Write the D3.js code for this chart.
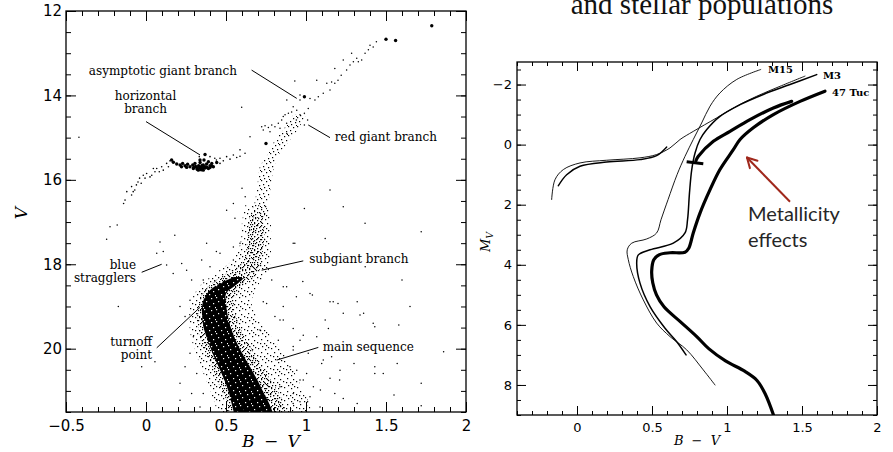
<!DOCTYPE html>
<html>
<head>
<meta charset="utf-8">
<script src="https://cdn.jsdelivr.net/npm/d3@7"></script>
<style>
  body { margin: 0; background: #fff; }
  svg { display: block; }
</style>
</head>
<body>
<svg id="fig" width="893" height="452"></svg>
<script>
// ---------------- Left panel: globular cluster colour–magnitude diagram ----------------
// Tick labels
const cmdColorTicks = [-0.5, 0, 0.5, 1, 1.5, 2];
const cmdMagTicks = [12, 14, 16, 18, 20];

// Brightest giants and a few luminous stars drawn as heavy dots [B-V, V]
const brightGiants = [[1.786, 12.35], [1.50, 12.67], [1.56, 12.70], [0.99, 14.03], [0.75, 15.14]];

// Red horizontal-branch clump (heavy dots)
const hbClump = [
  [0.171, 15.585], [0.192, 15.625], [0.213, 15.65], [0.229, 15.61], [0.244, 15.665], [0.26, 15.63],
  [0.275, 15.69], [0.292, 15.65], [0.306, 15.61], [0.317, 15.71], [0.329, 15.665], [0.338, 15.59],
  [0.348, 15.73], [0.358, 15.65], [0.369, 15.69], [0.379, 15.625], [0.39, 15.73], [0.40, 15.665],
  [0.411, 15.61], [0.421, 15.69], [0.296, 15.73], [0.327, 15.77], [0.358, 15.77], [0.254, 15.705],
  [0.222, 15.69], [0.39, 15.57], [0.3625, 15.53], [0.442, 15.59], [0.3375, 15.53], [0.16, 15.53],
  [0.31, 15.68], [0.34, 15.70], [0.37, 15.72], [0.35, 15.66], [0.32, 15.75], [0.38, 15.70],
  [0.30, 15.70], [0.345, 15.76], [0.335, 15.72], [0.36, 15.71], [0.40, 15.71], [0.41, 15.67],
  [0.369, 15.40]
];

// Blue tail and red end of the horizontal branch
const hbStars = [
  [-0.14, 16.56], [-0.131, 16.48], [-0.12, 16.28], [-0.09, 16.36], [-0.09, 16.16], [-0.08, 16.28],
  [-0.07, 16.24], [-0.06, 16.12], [-0.05, 16.05], [-0.04, 15.96], [-0.03, 16.08], [-0.017, 15.89],
  [-0.006, 15.96], [0.004, 15.85], [0.025, 15.93], [0.036, 15.89], [0.046, 15.73], [0.056, 15.81],
  [0.067, 15.73], [0.083, 15.81], [0.098, 15.69], [0.108, 15.77], [0.129, 15.61], [0.14, 15.69],
  [0.15, 15.55], [0.44, 15.53], [0.4625, 15.49], [0.483, 15.55], [0.504, 15.45], [0.525, 15.51],
  [0.546, 15.41], [0.567, 15.47], [0.5875, 15.44], [0.619, 15.37], [0.4625, 15.61], [0.43, 15.49],
  [0.40, 15.45], [0.333, 15.45], [0.5875, 15.29]
];

// Upper red giant branch
const upperGiants = [
  [0.942, 14.35], [0.9625, 14.11], [1.014, 14.31], [1.025, 14.07], [1.056, 14.11], [1.077, 14.03],
  [1.108, 13.95], [1.15, 13.87], [1.16, 13.68], [1.18, 13.71], [1.2, 13.64], [1.22, 13.52],
  [1.254, 13.4], [1.275, 13.28], [1.296, 13.2], [1.317, 13.12], [1.327, 13.2], [1.348, 13.16],
  [1.369, 13.0], [1.39, 12.92], [1.4, 12.81], [1.42, 12.85], [1.44, 12.73], [1.233, 13.16],
  [1.285, 13.0], [1.18, 13.36], [1.13, 13.71], [0.93, 13.66], [0.9625, 13.99], [0.9625, 14.46],
  [0.99, 14.42], [1.01, 14.58], [0.94, 14.58], [0.99, 14.7], [0.88, 14.11], [1.067, 13.64]
];

// Asymptotic giant branch
const agbStars = [
  [0.723, 14.74], [0.744, 14.72], [0.765, 14.76], [0.786, 14.70], [0.806, 14.74], [0.827, 14.66],
  [0.848, 14.58], [0.858, 14.50], [0.869, 14.46], [0.89, 14.42], [0.91, 14.39], [0.92, 14.27],
  [0.775, 14.86], [0.733, 14.82], [0.8375, 14.78], [0.879, 14.66]
];

// Blue stragglers
const blueStragglers = [
  [0.0875, 17.47], [0.108, 17.70], [0.067, 17.74], [0.129, 18.02], [0.17, 18.22], [0.223, 17.98],
  [0.18, 17.31], [0.254, 18.14], [0.285, 18.37], [0.275, 18.85], [0.2125, 19.0], [0.244, 19.24]
];

// Scattered field stars
const fieldStars = [
  [-0.419, 14.99], [-0.246, 17.41], [-0.18, 17.07], [-0.225, 17.11], [-0.173, 19.0], [0.598, 14.28],
  [0.546, 16.56], [0.504, 16.72], [0.556, 16.91], [0.65, 14.98], [1.15, 16.24], [1.233, 16.64],
  [0.99, 16.68], [1.369, 17.03], [1.72, 17.23], [1.12, 17.39], [0.93, 17.5], [1.6, 18.37],
  [0.98, 18.41], [1.04, 18.73], [1.15, 18.89], [1.2, 18.93], [1.32, 18.89], [1.65, 19.0],
  [1.36, 19.16], [1.43, 19.48], [1.58, 19.44], [1.14, 19.52], [1.86, 20.07], [1.16, 20.19],
  [1.43, 20.59], [1.3, 20.35], [1.72, 20.82], [1.21, 20.74], [1.57, 20.35], [1.18, 21.06],
  [1.09, 20.98], [1.32, 21.3], [1.01, 21.26], [0.858, 18.53], [0.94, 18.77], [0.858, 19.0],
  [0.806, 19.24], [1.12, 19.32], [0.983, 19.68], [1.067, 19.72], [0.92, 19.95], [1.014, 20.11],
  [1.098, 20.35], [0.942, 20.51], [0.983, 20.74], [1.046, 20.9], [0.92, 21.06], [0.9625, 21.26],
  [1.233, 21.18], [1.15, 20.7], [1.43, 20.43], [1.37, 18.06], [0.786, 18.37], [0.733, 18.89],
  [1.025, 18.69], [1.17, 18.89], [1.233, 19.16], [1.3375, 19.2], [1.42, 19.4], [0.858, 19.32],
  [0.92, 19.52], [0.9625, 19.8], [0.7125, 19.56], [0.827, 19.8], [1.004, 20.59], [0.90, 20.43],
  [0.9625, 20.74], [1.108, 20.27], [1.2125, 20.51], [1.483, 20.59], [0.8375, 20.9], [1.025, 21.14],
  [0.92, 21.3], [1.0875, 21.38], [0.358, 18.37], [0.40, 18.06], [0.4625, 17.74], [0.348, 17.9],
  [0.546, 17.59], [-0.027, 20.43], [0.056, 20.31], [0.2125, 20.82], [0.244, 20.43], [0.275, 20.11],
  [0.296, 19.72], [0.2125, 21.22], [0.285, 21.06], [0.3375, 21.38], [0.317, 20.59], [0.358, 21.06],
  [0.379, 17.5], [0.44, 17.7], [0.5875, 17.5], [0.546, 17.9], [0.92, 17.5], [0.879, 18.53],
  [0.754, 18.93], [0.8375, 19.32], [0.92, 20.03], [1.72, 21.35], [1.55, 21.1], [0.88, 14.9],
  [0.60, 16.2], [0.62, 16.4]
];

// Density envelopes of the crowded sequences: magnitude, blue edge, red edge
const rgbBandV  = [14.45, 14.8, 15.1, 15.4, 15.7, 16.0, 16.3, 16.6, 16.9];
const rgbBandLo = [0.92, 0.86, 0.80, 0.76, 0.71, 0.70, 0.69, 0.675, 0.645];
const rgbBandHi = [1.00, 0.95, 0.89, 0.83, 0.80, 0.785, 0.775, 0.76, 0.74];

const haloV  = [16.6, 17.0, 17.5, 17.9, 18.2, 18.5, 18.9, 19.3, 19.7, 20.1, 20.5, 20.9, 21.3, 21.6];
const haloLo = [0.62, 0.60, 0.59, 0.54, 0.44, 0.34, 0.28, 0.27, 0.28, 0.31, 0.35, 0.39, 0.43, 0.45];
const haloHi = [0.76, 0.78, 0.78, 0.78, 0.76, 0.70, 0.66, 0.70, 0.78, 0.86, 0.92, 0.97, 1.02, 1.04];

const ridgeV  = [16.9, 17.3, 17.7, 18.0, 18.2, 18.4, 18.6, 18.9, 19.2, 19.6, 20.0, 20.4, 20.8, 21.2, 21.6];
const ridgeLo = [0.645, 0.635, 0.625, 0.59, 0.51, 0.43, 0.37, 0.33, 0.32, 0.33, 0.36, 0.41, 0.45, 0.50, 0.52];
const ridgeHi = [0.73, 0.74, 0.73, 0.72, 0.70, 0.64, 0.58, 0.55, 0.56, 0.60, 0.66, 0.72, 0.79, 0.85, 0.88];

const coreV  = [18.3, 18.5, 18.7, 18.9, 19.2, 19.5, 19.8, 20.1, 20.4, 20.7, 21.0, 21.3, 21.6];
const coreLo = [0.55, 0.44, 0.38, 0.355, 0.35, 0.36, 0.385, 0.415, 0.45, 0.485, 0.515, 0.535, 0.555];
const coreHi = [0.62, 0.56, 0.50, 0.50, 0.51, 0.53, 0.56, 0.60, 0.645, 0.69, 0.73, 0.77, 0.80];

// Annotations: label lines, text anchor [B-V, V], leader start and end
const cmdNotes = [
  { lines: ["asymptotic giant branch"], at: [0.106, 13.52], align: "middle", from: [0.66, 13.40], to: [0.942, 14.07] },
  { lines: ["horizontal", "branch"], at: [-0.003, 14.12], align: "middle", from: [0.0, 14.62], to: [0.3375, 15.41] },
  { lines: ["red giant branch"], at: [1.18, 15.07], align: "start", from: [1.15, 15.0], to: [1.014, 14.70] },
  { lines: ["subgiant branch"], at: [1.02, 17.98], align: "start", from: [0.983, 17.92], to: [0.723, 18.14] },
  { lines: ["main sequence"], at: [1.104, 20.05], align: "start", from: [1.077, 19.97], to: [0.817, 20.27] },
  { lines: ["blue", "stragglers"], at: [-0.0625, 18.12], align: "end", from: [-0.027, 18.19], to: [0.098, 18.0] },
  { lines: ["turnoff", "point"], at: [0.0375, 19.93], align: "end", from: [0.067, 19.98], to: [0.3375, 19.02] }
];

// ---------------- Right panel: fiducial sequences of three clusters ----------------
const fidColorTicks = [0, 0.5, 1, 1.5, 2];
const fidMagTicks = [-2, 0, 2, 4, 6, 8];

const m15Giant = [
  [1.225, -2.5], [1.065, -2.17], [0.953, -1.72], [0.887, -1.28], [0.831, -0.72], [0.775, -0.17],
  [0.72, 0.39], [0.667, 1.0], [0.607, 1.83], [0.56, 2.5], [0.531, 2.94], [0.465, 3.14],
  [0.365, 3.28], [0.335, 3.5], [0.342, 3.83], [0.375, 4.39], [0.442, 5.17], [0.531, 5.94],
  [0.62, 6.39], [0.731, 6.83], [0.842, 7.5], [0.92, 8.0]
];
const m15Branch = [
  [-0.169, 1.83], [-0.147, 1.17], [-0.091, 0.83], [0.02, 0.61], [0.198, 0.52], [0.42, 0.44],
  [0.531, 0.33], [0.62, 0.11], [0.687, -0.17], [0.775, -0.44], [0.931, -0.89], [1.065, -1.28],
  [1.198, -1.61], [1.353, -1.94], [1.52, -2.28]
];
const m3Giant = [
  [1.598, -2.33], [1.42, -2.0], [1.242, -1.67], [1.087, -1.33], [0.953, -0.94], [0.865, -0.5],
  [0.82, -0.17], [0.787, 0.28], [0.765, 0.83], [0.75, 1.6], [0.737, 2.5], [0.72, 2.94],
  [0.642, 3.28], [0.487, 3.5], [0.409, 3.67], [0.398, 3.94], [0.42, 4.61], [0.487, 5.39],
  [0.587, 6.11], [0.665, 6.56], [0.727, 7.0]
];
const m3Branch = [
  [-0.125, 1.37], [-0.069, 1.0], [0.02, 0.72], [0.198, 0.58], [0.42, 0.5], [0.531, 0.37], [0.598, 0.08]
];
const tucGiant = [
  [1.653, -1.78], [1.487, -1.44], [1.309, -1.0], [1.175, -0.56], [1.087, -0.17], [1.042, 0.17],
  [0.953, 0.83], [0.887, 1.5], [0.82, 2.28], [0.775, 2.94], [0.745, 3.45], [0.72, 3.58],
  [0.62, 3.6], [0.55, 3.66], [0.512, 3.83], [0.498, 4.2], [0.505, 4.6], [0.53, 5.0],
  [0.58, 5.4], [0.69, 5.9], [0.80, 6.4], [0.88, 6.8], [0.99, 7.2], [1.12, 7.55],
  [1.20, 7.85], [1.255, 8.3], [1.31, 9.0]
];
const tucAgb = [
  [1.431, -1.44], [1.309, -1.22], [1.153, -0.83], [1.02, -0.44], [0.909, -0.11], [0.809, 0.39], [0.793, 0.53]
];
const tucHb = [[0.731, 0.57], [0.842, 0.64]];

const clusterNames = ["M15", "M3", "47 Tuc"];
const clusterLabelAt = [[1.273, -2.4], [1.64, -2.2], [1.70, -1.63]];

const noteLines = ["Metallicity", "effects"];
const noteAt = [[1.14, 2.53], [1.14, 3.4]];
const arrowFrom = [1.42, 1.9];
const arrowTo = [1.133, 0.43];

// ---------------- Drawing ----------------
const svg = d3.select("#fig");
svg.append("rect").attr("width", 893).attr("height", 452).attr("fill", "#fff");
const defs = svg.append("defs");

// Grain textures for crowded regions
function grain(id, size, dots, bg) {
  const p = defs.append("pattern").attr("id", id)
    .attr("patternUnits", "userSpaceOnUse").attr("width", size).attr("height", size);
  if (bg) p.append("rect").attr("width", size).attr("height", size).attr("fill", bg);
  const ink = bg ? "#fff" : "#000";
  dots.forEach(([a, b]) => p.append("rect").attr("x", a).attr("y", b)
    .attr("width", 1.2).attr("height", 1.2).attr("fill", ink));
}
grain("gCore", 12, [[2,1],[9,3],[5,6],[0,9],[7,10],[11,7]], "#000");
grain("gMid", 14, [[0,0],[5,0],[9,1],[12,0],[2,2],[7,3],[11,3],[4,4],[13,5],[1,5],[8,6],[6,7],
  [10,8],[3,8],[0,10],[12,10],[5,10],[8,11],[2,12],[10,13],[6,13],[13,12],[4,1],[9,9],[1,7],[11,6]]);
grain("gSparse", 13, [[1,1],[7,2],[4,5],[10,4],[2,8],[8,9],[5,11],[11,10],[6,7],[0,5]]);
grain("gBand", 9, [[0,0],[5,1],[2,4],[7,5],[3,7],[8,8]]);

const zip = (v, lo, hi) => v.map((d, i) => ({ v: d, lo: lo[i], hi: hi[i] }));

// ---- Left panel ----
const lx = d3.scaleLinear().domain([-0.5, 2.0]).range([66, 466]);
const ly = d3.scaleLinear().domain([12, 21.5]).range([11, 412]);

defs.append("clipPath").attr("id", "clipL").append("rect")
  .attr("x", 66).attr("y", 11).attr("width", 400).attr("height", 401);

const L = svg.append("g");
const Lc = L.append("g").attr("clip-path", "url(#clipL)");

const band = d3.area()
  .y(d => ly(d.v)).x0(d => lx(d.lo)).x1(d => lx(d.hi))
  .curve(d3.curveCatmullRom);

Lc.append("path").datum(zip(haloV, haloLo, haloHi)).attr("d", band).attr("fill", "url(#gSparse)");
Lc.append("path").datum(zip(rgbBandV, rgbBandLo, rgbBandHi)).attr("d", band).attr("fill", "url(#gBand)");
Lc.append("path").datum(zip(ridgeV, ridgeLo, ridgeHi)).attr("d", band).attr("fill", "url(#gMid)");
Lc.append("path").datum(zip(coreV, coreLo, coreHi)).attr("d", band).attr("fill", "url(#gCore)");

function dots(data, r) {
  Lc.append("g").selectAll("circle").data(data).join("circle")
    .attr("cx", d => lx(d[0])).attr("cy", d => ly(d[1])).attr("r", r).attr("fill", "#000");
}
dots(fieldStars, 0.75);
dots(blueStragglers, 0.75);
dots(upperGiants, 0.75);
dots(agbStars, 0.75);
dots(hbStars, 0.8);
dots(hbClump, 1.7);
dots(brightGiants, 1.7);

// Frame, ticks and labels
function frame(g, x, y, o) {
  const [x0, x1] = x.range(), [y0, y1] = y.range();
  const minorX = d3.range(Math.round(x.domain()[0] * 10), Math.round(x.domain()[1] * 10) + 1).map(i => i / 10);
  const minorY = d3.range(Math.ceil(Math.min(...y.domain()) * 2), Math.floor(Math.max(...y.domain()) * 2) + 1).map(i => i / 2);
  const put = (axis, tr, vals, size, fmt, pad) => {
    const a = g.append("g").attr("transform", tr)
      .call(axis.tickValues(vals).tickSize(-size).tickPadding(pad).tickFormat(fmt));
    a.select(".domain").remove();
    a.selectAll("line").attr("stroke", "#000").attr("stroke-width", 1);
    a.selectAll("text").attr("fill", "#000")
      .style("font-family", "'DejaVu Sans', sans-serif").style("font-size", o.font + "px");
    return a;
  };
  const none = () => "";
  const fmt = d3.format("~g");
  put(d3.axisBottom(x), `translate(0,${y1})`, minorX, o.minor, none, 0);
  put(d3.axisTop(x), `translate(0,${y0})`, minorX, o.minor, none, 0);
  put(d3.axisLeft(y), `translate(${x0},0)`, minorY, o.minor, none, 0);
  put(d3.axisRight(y), `translate(${x1},0)`, minorY, o.minor, none, 0);
  put(d3.axisBottom(x), `translate(0,${y1})`, o.xt, o.major, fmt, o.padX);
  put(d3.axisTop(x), `translate(0,${y0})`, o.xt, o.major, none, 0);
  put(d3.axisLeft(y), `translate(${x0},0)`, o.yt, o.major, fmt, o.padY);
  put(d3.axisRight(y), `translate(${x1},0)`, o.yt, o.major, none, 0);
  g.append("rect").attr("x", x0).attr("y", y0).attr("width", x1 - x0).attr("height", y1 - y0)
    .attr("fill", "none").attr("stroke", "#000").attr("stroke-width", 1.3);
}
frame(L, lx, ly, { xt: cmdColorTicks, yt: cmdMagTicks, minor: 5, major: 10, font: 15, padX: 8, padY: 4 });

// Axis titles
L.append("text").attr("x", 271).attr("y", 447).attr("text-anchor", "middle")
  .style("font", "italic 17px 'DejaVu Serif', serif").style("word-spacing", "4px").text("B − V");
L.append("text").attr("transform", "translate(27,213) rotate(-90)").attr("text-anchor", "middle")
  .style("font", "italic 17px 'DejaVu Serif', serif").text("V");

// Annotations
const notes = L.append("g").style("font", "12px 'DejaVu Serif', serif").attr("fill", "#000");
cmdNotes.forEach(n => {
  const t = notes.append("text").attr("text-anchor", n.align);
  n.lines.forEach((s, i) => t.append("tspan")
    .attr("x", lx(n.at[0])).attr("y", ly(n.at[1]) + i * 13).text(s));
  notes.append("line")
    .attr("x1", lx(n.from[0])).attr("y1", ly(n.from[1]))
    .attr("x2", lx(n.to[0])).attr("y2", ly(n.to[1]))
    .attr("stroke", "#000").attr("stroke-width", 1);
});

// ---- Right panel ----
const rx = d3.scaleLinear().domain([-0.4, 2.0]).range([517, 877]);
const ry = d3.scaleLinear().domain([-2.75, 9.0]).range([62, 415]);

defs.append("clipPath").attr("id", "clipR").append("rect")
  .attr("x", 517).attr("y", 62).attr("width", 360).attr("height", 353);

const R = svg.append("g");
const Rc = R.append("g").attr("clip-path", "url(#clipR)");
const seq = d3.line().x(d => rx(d[0])).y(d => ry(d[1])).curve(d3.curveCatmullRom.alpha(0.5));

[[m15Giant, 0.9], [m15Branch, 0.9], [m3Giant, 1.5], [m3Branch, 1.4], [tucGiant, 3.2], [tucAgb, 3.2]]
  .forEach(([d, w]) => Rc.append("path").datum(d).attr("d", seq)
    .attr("fill", "none").attr("stroke", "#000").attr("stroke-width", w).attr("stroke-linecap", "round"));
Rc.append("path").datum(tucHb).attr("d", d3.line().x(d => rx(d[0])).y(d => ry(d[1])))
  .attr("fill", "none").attr("stroke", "#000").attr("stroke-width", 3);

frame(R, rx, ry, { xt: fidColorTicks, yt: fidMagTicks, minor: 4, major: 9, font: 13, padX: 8, padY: 5 });

R.selectAll(".clabel").data(clusterNames).join("text")
  .attr("x", (d, i) => rx(clusterLabelAt[i][0])).attr("y", (d, i) => ry(clusterLabelAt[i][1]))
  .style("font", "bold 10px 'DejaVu Serif', serif").text(d => d);

R.append("text").attr("x", 697).attr("y", 445).attr("text-anchor", "middle")
  .style("font", "italic 13px 'DejaVu Serif', serif").style("word-spacing", "4px").text("B − V");
const mv = R.append("text").attr("transform", "translate(490,242) rotate(-90)").attr("text-anchor", "middle")
  .style("font", "italic 13px 'DejaVu Serif', serif");
mv.append("tspan").text("M");
mv.append("tspan").attr("dy", 3).style("font-size", "9px").text("V");

// Metallicity note and arrow
const red = "#a0281c";
const ax1 = rx(arrowFrom[0]), ay1 = ry(arrowFrom[1]), ax2 = rx(arrowTo[0]), ay2 = ry(arrowTo[1]);
R.append("line").attr("x1", ax1).attr("y1", ay1).attr("x2", ax2).attr("y2", ay2)
  .attr("stroke", red).attr("stroke-width", 2);
const ang = Math.atan2(ay1 - ay2, ax1 - ax2);
[-0.5, 0.5].forEach(da => R.append("line")
  .attr("x1", ax2).attr("y1", ay2)
  .attr("x2", ax2 + 11 * Math.cos(ang + da)).attr("y2", ay2 + 11 * Math.sin(ang + da))
  .attr("stroke", red).attr("stroke-width", 2).attr("stroke-linecap", "round"));
R.selectAll(".note").data(noteLines).join("text")
  .attr("x", (d, i) => rx(noteAt[i][0])).attr("y", (d, i) => ry(noteAt[i][1]))
  .attr("fill", "#262626").style("font", "20px Lato, 'Open Sans', sans-serif").text(d => d);

// Page heading fragment
svg.append("text").attr("x", 702).attr("y", 14).attr("text-anchor", "middle")
  .style("font", "29px 'Liberation Serif', serif").attr("fill", "#111").text("and stellar populations");
</script>
</body>
</html>
